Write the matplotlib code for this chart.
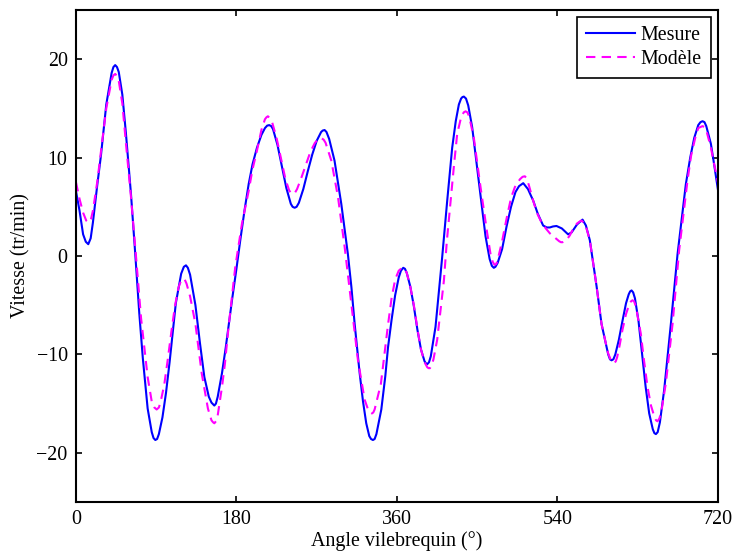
import matplotlib
matplotlib.use("Agg")
import matplotlib.pyplot as plt

# Mesure (blue, solid): (angle in degrees, speed in tr/min)
mesure = [
    (0, 6.6), (4, 4.6), (8, 2.2), (11, 1.45), (13.8, 1.2), (16.5, 1.8), (19, 3.4),
    (24, 7.3), (28, 10.2), (34, 15.4), (40, 18.6), (42, 19.2), (44, 19.4), (46, 19.2),
    (48, 18.7), (52, 16.4), (56, 12.5), (61.7, 6.3), (66.5, 0.2), (71, -5.8), (75, -10.4),
    (80.4, -15.5), (85, -17.9), (87, -18.5), (89, -18.7), (91, -18.6), (93, -18.1),
    (97, -16.4), (101, -13.9), (105, -10.8), (109, -7.4), (112, -4.8), (118, -1.8),
    (121, -1.1), (123.4, -0.95), (125.5, -1.2), (128, -1.9), (134, -5.0), (139, -8.8),
    (144, -12.3), (149, -14.3), (152, -14.9), (155.2, -15.2), (157, -15.0), (159, -14.3),
    (163.8, -11.9), (168, -9.3), (175, -4.5), (180, -1.3), (184.3, 1.6), (189, 4.6),
    (193.7, 7.3), (198, 9.3), (203, 11.0), (208, 12.3), (212, 13.0), (214.5, 13.25),
    (216.8, 13.3), (219, 13.2), (221, 12.9), (226, 11.3), (231, 9.1), (236, 6.9),
    (241, 5.3), (243, 5.0), (245.3, 4.9), (247.5, 5.0), (250, 5.4), (255, 6.8),
    (260, 8.6), (265, 10.3), (270, 11.7), (275, 12.6), (276.8, 12.75), (278.9, 12.8),
    (281, 12.6), (284, 11.9), (290, 9.7), (297.6, 5.3), (305, 0.2), (309, -3.2),
    (312.6, -6.9), (318.2, -11.9), (322, -14.8), (325.6, -17.0), (329, -18.3),
    (331, -18.6), (333.1, -18.7), (335, -18.6), (337, -18.1), (342.5, -15.6),
    (347, -12.2), (350, -9.3), (354, -6.5), (358, -4.0), (362, -2.2), (364.5, -1.5),
    (367.1, -1.2), (369, -1.3), (371, -1.7), (375, -3.1), (379, -5.1), (383, -7.5),
    (387, -9.5), (391, -10.7), (392.5, -10.9), (394, -11.0), (396, -10.8), (398, -10.2),
    (403.3, -7.2), (410.8, -0.1), (416.4, 5.6), (422, 11.0), (426, 13.7), (429.5, 15.4),
    (432, 16.0), (433.5, 16.15), (435.1, 16.2), (437.5, 16.0), (440, 15.3), (444.4, 13.1),
    (452, 7.5), (459.4, 2.0), (464, -0.3), (466.5, -1.0), (468.7, -1.2), (470.5, -1.1),
    (473, -0.7), (478, 0.7), (483, 3.0), (488, 5.0), (493, 6.5), (497, 7.1),
    (501.7, 7.4), (507, 6.8), (513, 5.6), (518, 4.3), (524, 3.1), (528, 2.9),
    (531.6, 2.9), (535, 3.0), (539, 3.05), (545, 2.8), (552, 2.2), (556, 2.4),
    (562, 3.2), (568.2, 3.7), (572, 3.1), (576.4, 1.6), (584, -3.1), (589.5, -6.9),
    (594.4, -8.9), (597, -10.0), (599, -10.5), (600.8, -10.6), (602.8, -10.5),
    (605, -10.0), (609, -8.5), (613, -6.6), (617, -4.8), (620, -3.9), (621.6, -3.6),
    (623.2, -3.5), (625, -3.7), (627, -4.3), (631, -6.6), (635, -9.9), (639, -13.3),
    (643, -16.0), (647, -17.6), (648.8, -18.0), (650.5, -18.1), (652.5, -17.9),
    (655, -16.9), (659.8, -13.6), (667.3, -6.9), (674.8, 0.2), (684.1, 7.3), (689, 10.0),
    (693.5, 12.0), (698, 13.3), (700.5, 13.6), (702.8, 13.7), (705, 13.6), (707, 13.2),
    (712.2, 11.4), (716, 9.2), (720, 6.8),
]

# Modele (magenta, dashed)
modele = [
    (0, 7.5), (4, 5.8), (8, 4.4), (11.5, 3.6), (14.2, 3.4), (17, 3.8), (19, 4.6),
    (24, 7.6), (28, 10.6), (34, 15.0), (40, 17.9), (42, 18.35), (44, 18.5), (46, 18.3),
    (48, 17.8), (52, 15.5), (56, 11.5), (61.7, 6.0), (67.3, 0.0), (73, -6.3),
    (80.4, -12.3), (85, -14.8), (88, -15.4), (90.5, -15.6), (93, -15.4), (95, -14.8),
    (99, -13.1), (103, -10.5), (107, -7.7), (111, -5.1), (115, -3.2), (117.5, -2.6),
    (120, -2.3), (122, -2.4), (124, -2.8), (128, -4.1), (134, -6.9), (141, -11.9),
    (148, -15.5), (152, -16.7), (153.8, -16.9), (155.2, -17.0), (157, -16.8),
    (159, -16.2), (163.8, -13.3), (167, -11.0), (171.2, -7.2), (178.7, -1.1),
    (186.2, 3.3), (193.7, 6.6), (198, 8.8), (203, 10.7), (208, 12.8), (212, 13.9),
    (213.7, 14.1), (215.3, 14.2), (217.5, 14.0), (220, 13.6), (225, 12.0), (230, 9.9),
    (235, 7.8), (239, 6.7), (241, 6.4), (243, 6.3), (245.5, 6.4), (248, 6.8),
    (253, 8.0), (258, 9.3), (263, 10.6), (268, 11.5), (272, 11.9), (275.2, 12.0),
    (278, 11.8), (280, 11.5), (286.4, 9.7), (293.9, 6.0), (301.4, 0.9), (308.8, -4.8),
    (316.3, -10.6), (323.8, -14.6), (328, -15.7), (330, -15.9), (332, -16.0),
    (333.5, -15.9), (335, -15.6), (342, -13.0), (346, -10.0), (350, -7.0), (354, -4.3),
    (358, -2.4), (362, -1.5), (364.5, -1.3), (367, -1.2), (369, -1.4), (371, -1.7),
    (375, -3.1), (379, -5.0), (383, -7.4), (387, -9.5), (391, -10.8), (394, -11.3),
    (395.5, -11.4), (397, -11.4), (399, -11.1), (401, -10.5), (405.2, -8.5),
    (412.7, -2.5), (416, 1.5), (420.2, 5.6), (424, 9.2), (427.6, 12.4), (432, 14.1),
    (435, 14.6), (437, 14.7), (439, 14.6), (441, 14.2), (446.3, 12.0), (453.8, 7.0),
    (461.3, 2.3), (465, 0.2), (467.5, -0.6), (469.5, -0.9), (471.5, -0.8), (473, -0.4),
    (478, 1.5), (483, 3.8), (488, 5.9), (492.3, 7.0), (498, 7.8), (501, 8.05),
    (503.5, 8.1), (505.5, 7.9), (508, 7.2), (512.9, 5.6), (517, 4.4), (522.2, 3.4),
    (527, 2.8), (531.6, 2.3), (538, 1.8), (542, 1.5), (544, 1.4), (545.8, 1.4),
    (548, 1.5), (550, 1.6), (554, 2.1), (558, 2.8), (562, 3.3), (565, 3.5), (567, 3.6),
    (569.5, 3.4), (572, 3.0), (576.4, 1.6), (584, -3.1), (589.5, -6.9), (594.4, -8.9),
    (597, -9.9), (600, -10.6), (602, -10.8), (603.7, -10.9), (605.5, -10.7),
    (607, -10.3), (610, -9.0), (613, -7.5), (617, -5.9), (621, -4.8), (622.7, -4.6),
    (624.3, -4.5), (626, -4.6), (628, -5.1), (633.6, -7.9), (637, -10.5),
    (641.1, -13.3), (645, -15.2), (649, -16.4), (650.7, -16.7), (652.3, -16.8),
    (654.5, -16.5), (657, -15.6), (661.7, -12.9), (669.2, -6.9), (676.6, 0.6),
    (686, 7.7), (690, 10.2), (694.6, 12.0), (698, 13.0), (700.5, 13.1), (702.8, 13.2),
    (705, 13.1), (707, 12.8), (712.2, 11.0), (716, 9.3), (720, 7.5),
]

x_ticks = [0, 180, 360, 540, 720]
y_ticks = [-20, -10, 0, 10, 20]

angle_mesure = [p[0] for p in mesure]
vitesse_mesure = [p[1] for p in mesure]
angle_modele = [p[0] for p in modele]
vitesse_modele = [p[1] for p in modele]

plt.rcParams['font.family'] = ['Liberation Serif', 'DejaVu Serif']
plt.rcParams['font.size'] = 14.4

fig = plt.figure(figsize=(7.34, 5.55), dpi=100)
ax = fig.add_axes([0.1035, 0.0955, 0.8745, 0.8865])

ax.plot(angle_mesure, vitesse_mesure, color=(0, 0, 1), lw=1.5, label='Mesure')
ax.plot(angle_modele, vitesse_modele, color=(1, 0, 1), lw=1.5,
        dashes=(4.5, 3), label='Modèle')

ax.set_xlim(0, 720)
ax.set_ylim(-25, 25)
ax.set_xticks(x_ticks)
ax.set_yticks(y_ticks)
ax.tick_params(direction='in', length=4.5, width=1.2, top=True, right=True,
               pad=6, labelsize=14.4)
for s in ax.spines.values():
    s.set_linewidth(1.5)

ax.set_xlabel('Angle vilebrequin (°)', labelpad=1)
ax.set_ylabel('Vitesse (tr/min)', labelpad=4)

leg = ax.legend(loc='upper right', fancybox=False, framealpha=1,
                edgecolor='black', handlelength=2.45, handletextpad=0.3,
                labelspacing=0.25, borderpad=0.45, borderaxespad=0.35,
                fontsize=14.4)
leg.get_frame().set_linewidth(1.2)

fig.savefig('out.png', dpi=100)
